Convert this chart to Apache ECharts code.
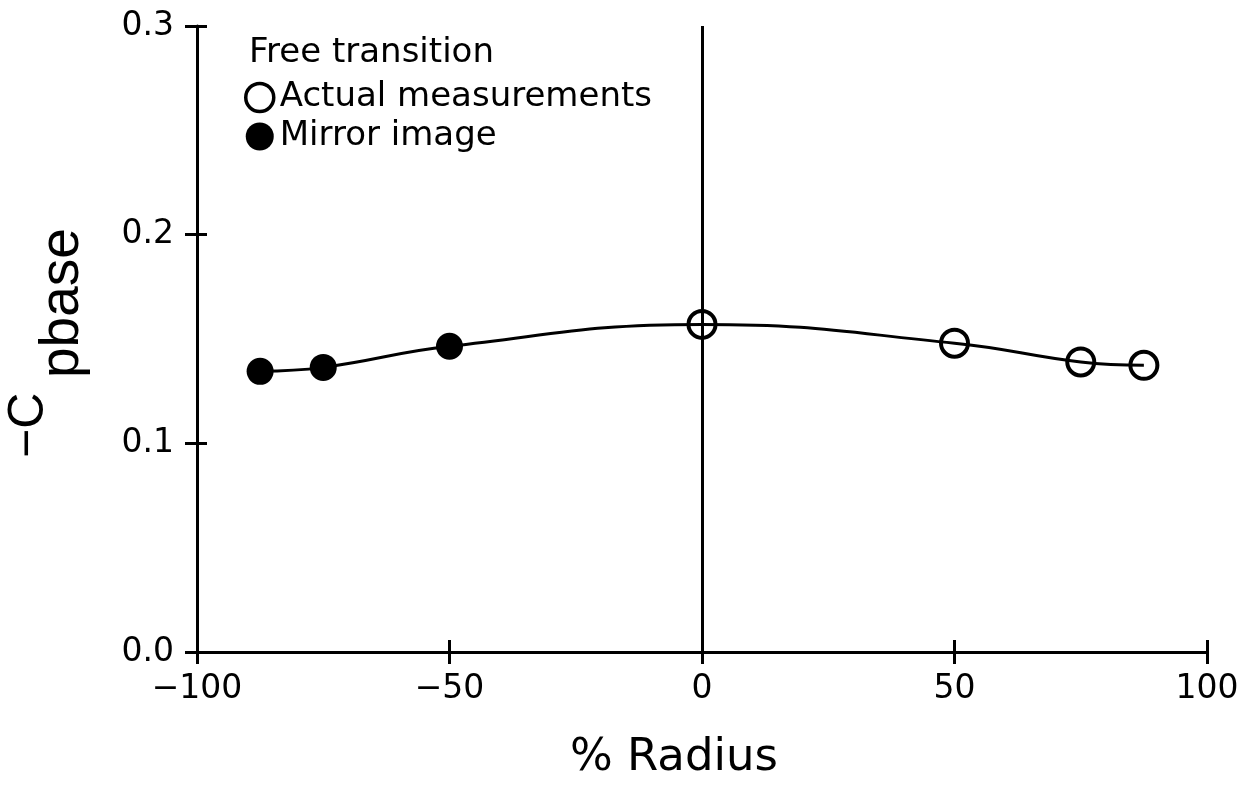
<!DOCTYPE html>
<html>
<head>
<meta charset="utf-8">
<title>Base pressure coefficient across the radius</title>
<script src="https://cdn.jsdelivr.net/npm/echarts@6/dist/echarts.min.js"></script>
<style>
  html, body { margin: 0; padding: 0; background: #fff; }
  #chart { width: 1251px; height: 791px; }
</style>
</head>
<body>
<div id="chart"></div>
<script>
// Measured base pressure (−Cp,base) at stations across the radius
const radiusActual = [0, 50, 75, 87.5];
const cpActual = [0.157, 0.148, 0.139, 0.1374];

// Mirrored stations on the opposite side
const radiusMirror = [-87.5, -75, -50];
const cpMirror = [0.1345, 0.1364, 0.1465];

// Axis ticks
const xTicks = [-100, -50, 0, 50, 100];
const yTicks = [0.0, 0.1, 0.2, 0.3];

const legendTitle = 'Free transition';
const nameActual = 'Actual measurements';
const nameMirror = 'Mirror image';
const yTitleMain = '\u2212C';
const yTitleSub = 'pbase';

const INK = '#000';
const titleFont = 'Liberation Sans, Arial, sans-serif';
const textFont = 'DejaVu Sans, Verdana, sans-serif';

const toPairs = (xs, ys) => xs.map((x, i) => [x, ys[i]]);
const actualPts = toPairs(radiusActual, cpActual);
const mirrorPts = toPairs(radiusMirror, cpMirror);
const curvePts = mirrorPts.concat(actualPts).sort((a, b) => a[0] - b[0]);

const xStep = xTicks[1] - xTicks[0];
const yStep = Math.round((yTicks[1] - yTicks[0]) * 10) / 10;

const minusify = s => String(s).replace('-', '\u2212');

const baseX = {
  type: 'value',
  min: xTicks[0],
  max: xTicks[xTicks.length - 1],
  interval: xStep,
  splitLine: { show: false }
};
const baseY = {
  type: 'value',
  min: yTicks[0],
  max: yTicks[yTicks.length - 1],
  interval: yStep,
  splitLine: { show: false }
};

const chart = echarts.init(document.getElementById('chart'), null, { renderer: 'canvas' });

chart.setOption({
  backgroundColor: '#fff',
  animation: false,
  grid: { left: 197, right: 44, top: 26, bottom: 139, outerBoundsMode: 'none', containLabel: false },
  title: {
    text: legendTitle,
    left: 249,
    top: 36,
    padding: 0,
    textStyle: { fontFamily: textFont, fontSize: 34, fontWeight: 'normal', color: INK }
  },
  legend: {
    orient: 'vertical',
    left: 244,
    top: 80,
    padding: 0,
    itemGap: 4,
    itemWidth: 28,
    itemHeight: 28,
    selectedMode: false,
    textStyle: { fontFamily: textFont, fontSize: 34, color: INK, lineHeight: 35, padding: [0, 0, 0, 1] },
    data: [
      { name: nameActual, icon: 'circle', itemStyle: { color: 'rgba(0,0,0,0)', borderColor: INK, borderWidth: 3.5 } },
      { name: nameMirror, icon: 'circle', itemStyle: { color: INK, borderWidth: 0 } }
    ]
  },
  // y-axis title with the subscript lowered below the main baseline
  graphic: [
    {
      type: 'group',
      x: 47,
      y: 458,
      rotation: Math.PI / 2,
      silent: true,
      children: [
        {
          type: 'text',
          x: 0,
          y: -18,
          style: { text: yTitleMain, fontFamily: titleFont, fontSize: 50, fill: INK, align: 'left', verticalAlign: 'middle' }
        },
        {
          type: 'text',
          x: 80,
          y: 16,
          style: { text: yTitleSub, fontFamily: titleFont, fontSize: 55, fill: INK, align: 'left', verticalAlign: 'middle' }
        }
      ]
    }
  ],
  xAxis: [
    Object.assign({}, baseX, {
      position: 'bottom',
      axisLine: { show: true, onZero: false, lineStyle: { color: INK, width: 3 } },
      axisTick: { show: true, inside: false, length: 12, lineStyle: { color: INK, width: 3 } },
      axisLabel: {
        margin: 21,
        color: INK,
        fontFamily: textFont,
        fontSize: 33,
        formatter: v => minusify(v)
      },
      name: '% Radius',
      nameLocation: 'middle',
      nameGap: 84,
      nameTextStyle: { fontFamily: textFont, fontSize: 45, color: INK, padding: [0, 56, 0, 0] }
    }),
    // companion axis drawing the inward half of each tick
    Object.assign({}, baseX, {
      position: 'bottom',
      axisLine: { show: false, onZero: false },
      axisTick: { show: true, inside: true, length: 12, lineStyle: { color: INK, width: 3 } },
      axisLabel: { show: false }
    })
  ],
  yAxis: [
    Object.assign({}, baseY, {
      position: 'left',
      axisLine: { show: true, onZero: false, lineStyle: { color: INK, width: 3 } },
      axisTick: { show: true, inside: false, length: 12, lineStyle: { color: INK, width: 3 } },
      axisLabel: {
        margin: 23,
        color: INK,
        fontFamily: textFont,
        fontSize: 33,
        formatter: v => v.toFixed(1)
      }
    }),
    Object.assign({}, baseY, {
      position: 'left',
      axisLine: { show: false, onZero: false },
      axisTick: { show: true, inside: true, length: 10, lineStyle: { color: INK, width: 3 } },
      axisLabel: { show: false }
    })
  ],
  series: [
    {
      name: 'curve',
      type: 'line',
      xAxisIndex: 0,
      yAxisIndex: 0,
      data: curvePts,
      smooth: 0.45,
      showSymbol: false,
      symbol: 'none',
      silent: true,
      lineStyle: { color: INK, width: 3 },
      markLine: {
        silent: true,
        symbol: ['none', 'none'],
        label: { show: false },
        lineStyle: { color: INK, width: 3, type: 'solid' },
        data: [{ xAxis: 0 }]
      },
      z: 2
    },
    {
      name: nameMirror,
      type: 'scatter',
      data: mirrorPts,
      symbol: 'circle',
      symbolSize: 27,
      itemStyle: { color: INK, opacity: 1 },
      z: 3
    },
    {
      name: nameActual,
      type: 'scatter',
      data: actualPts,
      symbol: 'circle',
      symbolSize: 27,
      itemStyle: { color: 'rgba(0,0,0,0)', borderColor: INK, borderWidth: 4, opacity: 1 },
      z: 3
    }
  ]
});
</script>
</body>
</html>
